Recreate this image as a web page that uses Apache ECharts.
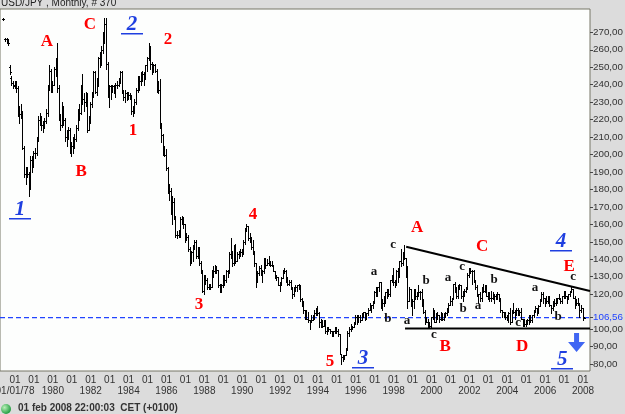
<!DOCTYPE html>
<html><head><meta charset="utf-8">
<script src="https://cdn.jsdelivr.net/npm/echarts@6/dist/echarts.min.js"></script>
<style>html,body{margin:0;padding:0;background:#dcdcdc;overflow:hidden}#c{width:625px;height:414px}</style>
</head><body><div id="c"></div>
<script>
// ---- DATA ----
const startYear = 1977, startMonth = 6; // first bar: June 1977, monthly bars
const opens = [
 277.5,266,266,265,250,244,241,
 240,241,238,223,223,224,204,189,190,189,180,197,
 195,201,201,209,220,220,217,216,219,224,239,248,
 240,240,249,250,238,221,217,227,220,210,211,214,
 203,205,206,209,215,225,224,238,232,230,234,214,
 219,229,235,247,236,240,255,257,260,268,275,252,
 235,239,238,239,238,240,240,243,247,236,233,235,
 232,234,233,225,225,230,237,243,242,246,246,244,
 251,255,259,252,251,251,248,237,237,217,211,202,
 200,192,180,179,168,173,164,154,154,154,163,162,
 160,153,153,146,139,144,147,150,142,147,138,133,
 122,127,128,124,125,124,133,133,135,134,125,122,
 125,130,128,133,133,143,144,138,145,139,143,143,
 144,145,150,158,159,152,153,147,144,138,129,132,
 135,131,133,140,137,138,138,137,137,133,130,130,
 125,125,129,133,133,128,126,127,123,120,123,124,
 125,124,117,115,111,107,106,105,104,105,108,109,
 112,109,104,103,102,104,99,100,100,99,97,99,
 100,99,97,86,84,84,85,88,98,100,102,101,
 103,107,105,107,105,108,110,107,109,111,114,114,
 116,121,120,124,127,116,115,118,121,121,120,128,
 130,127,126,133,133,139,138,144,141,136,116,123,
 113,116,119,119,119,121,121,115,110,106,104,102,
 102,107,110,104,108,108,106,109,106,108,109,111,
 114,116,117,126,124,119,125,125,119,120,122,124,
 131,134,133,133,128,124,119,120,118,122,122,122,
 119,120,118,118,119,119,120,120,117,111,110,110,
 107,106,109,104,111,110,109,111,110,110,106,103,
 103,104,105,107,105,108,111,112,111,113,116,120,
 118,117,116,118,114,112,114,115,118,118,117,116,
 119,121,119,118,120,122,123,118,116,115,115,111,
 112,106.4
];
const highs = [
 278,267,267,266,251,245,242,
 242,242,239,228,229,225,205,193,193,190,199,199,
 202,204,210,222,224,222,219,221,226,240,251,249,
 242,250,255,264,240,223,230,228,221,214,216,215,
 207,210,212,217,226,229,240,246,235,236,235,222,
 230,236,248,248,244,256,259,262,270,278,278,253,
 240,240,240,240,241,242,244,248,248,237,237,236,
 236,235,234,228,232,238,245,245,247,248,247,251,
 256,264,262,253,252,252,249,242,243,218,212,205,
 203,193,183,181,176,175,165,156,157,164,165,164,
 160,155,154,147,145,148,151,151,147,147,139,134,
 131,131,129,126,126,134,136,137,136,134,126,126,
 131,131,134,134,144,152,145,148,149,144,145,146,
 146,151,158,160,159,155,153,151,145,138,133,136,
 137,134,141,141,140,142,139,139,137,133,131,130,
 127,130,134,135,134,130,128,128,124,124,125,125,
 126,125,118,116,111,111,110,105,108,108,111,112,
 113,110,106,105,105,105,101,101,100,99,99,101,
 101,100,97,86,85,85,89,99,101,103,102,104,
 108,108,108,108,109,110,110,109,112,115,114,116,
 122,124,124,127,127,117,119,121,123,123,128,131,
 135,128,134,135,139,146,144,148,141,136,124,123,
 117,123,123,121,125,122,123,117,111,107,106,104,
 107,112,111,109,110,108,110,109,109,110,112,115,
 119,118,126,127,124,125,126,125,122,123,124,132,
 135,135,134,134,128,125,120,121,124,126,125,125,
 121,121,122,121,120,120,121,120,118,111,110,110,
 108,110,112,111,115,111,112,112,111,112,106,106,
 105,106,108,108,108,111,113,112,114,117,121,121,
 118,119,119,119,114,116,117,118,118,120,118,119,
 122,122,119,120,122,124,123,119,117,118,115,114,
 112,106.8
];
const lows = [
 277,265,264,263,246,240,238,
 238,236,222,218,221,203,187,183,187,176,180,190,
 193,198,200,208,217,214,213,215,218,222,237,236,
 236,240,245,236,220,214,216,217,208,205,209,201,
 199,201,204,208,214,220,223,229,225,228,213,214,
 218,227,233,235,234,239,250,251,258,264,249,233,
 227,232,236,235,233,238,239,241,235,231,230,231,
 232,232,223,222,224,229,236,237,240,242,240,243,
 248,254,249,246,247,247,236,235,215,207,200,199,
 191,178,174,166,160,163,153,152,153,153,160,158,
 150,151,145,137,138,139,146,141,141,137,132,121,
 120,126,123,123,123,124,130,132,132,124,121,121,
 124,125,127,130,132,141,136,137,138,139,141,142,
 142,143,149,156,151,150,146,143,136,124,127,131,
 131,127,132,135,137,137,136,136,133,129,128,125,
 122,125,129,132,127,125,125,123,118,119,122,122,
 123,116,113,109,106,106,104,100,104,105,106,108,
 108,101,101,101,102,98,97,99,98,96,96,98,
 98,96,86,80,82,83,85,88,96,99,100,101,
 103,103,104,104,105,107,105,106,108,111,110,112,
 115,119,119,122,112,111,113,115,118,119,119,127,
 125,124,125,127,130,136,137,140,130,112,116,113,
 108,112,117,117,119,117,113,109,103,104,101,101,
 101,106,104,104,106,104,105,105,105,107,108,110,
 114,114,117,121,118,118,123,118,116,119,121,123,
 130,132,126,127,123,119,115,116,116,121,121,119,
 117,116,116,117,115,117,117,116,110,107,107,106,
 105,104,103,104,109,106,108,108,108,106,102,102,
 102,103,103,104,104,107,110,108,109,113,116,115,
 113,115,115,113,109,111,113,114,115,117,115,115,
 118,118,115,117,119,121,118,112,114,114,107,110,
 105,106.3
];
const closes = [
 277.5,266,265,264,247,241,239,
 241,238,223,223,224,204,189,190,189,180,197,195,
 201,201,209,220,220,217,216,219,224,239,248,240,
 240,249,250,238,221,217,227,220,210,211,214,203,
 205,206,209,215,225,224,238,232,230,234,214,219,
 229,235,247,236,240,255,257,260,268,275,252,235,
 239,238,239,238,240,240,243,247,236,233,235,232,
 234,233,225,225,230,237,243,242,246,246,244,251,
 255,259,252,251,251,248,237,237,217,211,202,200,
 192,180,179,168,173,164,154,154,154,163,162,160,
 153,153,146,139,144,147,150,142,147,138,133,122,
 127,128,124,125,124,133,133,135,134,125,122,125,
 130,128,133,133,143,144,138,145,139,143,143,144,
 145,150,158,159,152,153,147,144,138,129,132,135,
 131,133,140,137,138,138,137,137,133,130,130,125,
 125,129,133,133,128,126,127,123,120,123,124,125,
 124,117,115,111,107,106,105,104,105,108,109,112,
 109,104,103,102,104,99,100,100,99,97,99,100,
 99,97,86,84,84,85,88,98,100,102,101,103,
 107,105,107,105,108,110,107,109,111,114,114,116,
 121,120,124,127,116,115,118,121,121,120,128,130,
 127,126,133,133,139,138,144,141,136,116,123,113,
 116,119,119,119,121,121,115,110,106,104,102,102,
 107,110,104,108,108,106,109,106,108,109,111,114,
 116,117,126,124,119,125,125,119,120,122,124,131,
 134,133,133,128,124,119,120,118,122,122,122,119,
 120,118,118,119,119,120,120,117,111,110,110,107,
 106,109,104,111,110,109,111,110,110,106,103,103,
 104,105,107,105,108,111,112,111,113,116,120,118,
 117,116,118,114,112,114,115,118,118,117,116,119,
 121,119,118,120,122,123,118,116,115,115,111,112,
 106.4,106.56
];
const lastPrice = 106.56;
const upperTrend = [[1998.66, 147.2], [2008.37, 121.8]];
const supportLine = [[1998.6, 100.4], [2008.37, 100.4]];
const yearTicks = [1978,1979,1980,1981,1982,1983,1984,1985,1986,1987,1988,1989,1990,1991,1992,1993,1994,1995,1996,1997,1998,1999,2000,2001,2002,2003,2004,2005,2006,2007,2008];
const yearLabelTicks = [1978,1980,1982,1984,1986,1988,1990,1992,1994,1996,1998,2000,2002,2004,2006,2008];
const yearLabels = ['01/01/78','1980','1982','1984','1986','1988','1990','1992','1994','1996','1998','2000','2002','2004','2006','2008'];
const monthLabel = '01';
const priceTicks = [80,90,100,106.56,120,130,140,150,160,170,180,190,200,210,220,230,240,250,260,270];
// wave annotations: [text, year, price]
const redLabels = [['A',1979.69,264.5],['C',1981.96,274.2],['2',1986.08,265.6],['1',1984.23,213.5],['B',1981.49,190.0],['3',1987.72,113.8],['4',1990.57,165.4],['5',1994.64,81.2],['A',1999.24,157.9],['C',2002.67,147.0],['E',2007.27,135.6],['B',2000.72,89.8],['D',2004.78,89.8]];
const blueLabels = [['1',1978.26,168.2],['2',1984.18,274.2],['3',1996.38,82.9],['4',2006.84,149.9],['5',2006.9,82.4]];
const smallLabels = [['a',1996.96,132.8],['b',1997.70,105.8],['a',1998.71,104.7],['c',1997.97,148.2],['b',1999.71,127.6],['a',2000.87,129.3],['c',2001.61,135.6],['b',2001.67,111.5],['c',2000.13,96.6],['a',2002.46,113.3],['b',2003.30,128.2],['c',2004.57,103.5],['a',2005.47,123.6],['b',2006.68,107.0],['c',2007.48,129.9]];
const arrowPoint = [[2007.66, 92.3]];
// ---- END DATA ----

const UI = "'Liberation Sans',Arial,sans-serif";
const SERIF = "'Liberation Serif','Times New Roman',serif";
const X_MIN = 1977.2077, X_MAX = 2008.3697;

const barData = closes.map((c, i) => [startYear + (startMonth - 1 + i) / 12, opens[i], highs[i], lows[i], c]);

function ohlcRender(params, api) {
  const x = api.value(0);
  const h = api.coord([x, api.value(2)]);
  const l = api.coord([x, api.value(3)]);
  const o = api.coord([x, api.value(1)]);
  const c = api.coord([x, api.value(4)]);
  const px = Math.floor(h[0]);
  const top = Math.round(h[1]), bot = Math.round(l[1]);
  return { type: 'group', children: [
    { type: 'rect', shape: { x: px, y: top, width: 1, height: Math.max(1, bot - top + 1) }, style: { fill: '#000' } },
    { type: 'rect', shape: { x: px - 1, y: Math.round(o[1]), width: 1, height: 1 }, style: { fill: '#000' } },
    { type: 'rect', shape: { x: px + 1, y: Math.round(c[1]), width: 1, height: 1 }, style: { fill: '#000' } }
  ]};
}

function textSeries(items, font, color, underline) {
  return {
    type: 'custom', clip: false, z: 10, silent: true,
    data: items.map(d => [d[1], d[2]]),
    renderItem: function (params, api) {
      const p = api.coord([api.value(0), api.value(1)]);
      const t = items[params.dataIndex][0];
      const ch = [{ type: 'text', x: p[0], y: p[1], style: { text: t, fill: color, font: font, align: 'center', verticalAlign: 'middle' } }];
      if (underline) ch.push({ type: 'rect', shape: { x: Math.round(p[0]) - 11, y: Math.round(p[1]) + 8, width: 22, height: 1.5 }, style: { fill: color } });
      return { type: 'group', children: ch };
    }
  };
}

const axisCommon = { type: 'value', min: X_MIN, max: X_MAX, gridIndex: 0, splitLine: { show: false }, axisLine: { show: false }, axisTick: { show: false } };

const chart = echarts.init(document.getElementById('c'), null, { renderer: 'canvas' });
chart.setOption({
  animation: false,
  backgroundColor: '#dcdcdc',
  grid: { left: 0, top: 9, right: 35, bottom: 43, show: true, containLabel: false, outerBoundsMode: 'none', backgroundColor: '#fdfefd', borderColor: '#767666', borderWidth: 1 },
  xAxis: [
    Object.assign({}, axisCommon, {
      axisLabel: { customValues: yearTicks, margin: 4, hideOverlap: false, fontFamily: UI, fontSize: 10, color: '#333', formatter: () => monthLabel }
    }),
    Object.assign({}, axisCommon, {
      position: 'bottom', offset: 0,
      axisLabel: { customValues: yearLabelTicks, margin: 15, hideOverlap: false, fontFamily: UI, fontSize: 10, color: '#333',
        formatter: v => yearLabels[yearLabelTicks.indexOf(Math.round(v))] }
    })
  ],
  yAxis: {
    type: 'value', position: 'right', min: 76, max: 283.35,
    splitLine: { show: false }, axisLine: { show: false },
    axisTick: { show: true, customValues: priceTicks, length: 3, lineStyle: { color: '#444' } },
    axisLabel: {
      customValues: priceTicks, margin: 3, hideOverlap: false, fontFamily: UI, fontSize: 9.8, color: '#333',
      formatter: v => { const s = v.toFixed(2).replace('.', ','); return Math.abs(v - lastPrice) < 0.001 ? '{cur|' + s + '}' : s; },
      rich: { cur: { color: '#2244ff', fontFamily: UI, fontSize: 9.8 } }
    }
  },
  graphic: [
    { type: 'text', left: 1, top: -2, style: { text: 'USD/JPY , Monthly, # 370', font: '10px ' + UI, fill: '#222' } },
    { type: 'circle', shape: { cx: 6, cy: 409, r: 5 }, style: { fill: { type: 'radial', x: 0.35, y: 0.35, r: 0.7, colorStops: [{ offset: 0, color: '#b8f0b8' }, { offset: 1, color: '#1c9a3c' }] } } },
    { type: 'text', left: 18, top: 403, style: { text: '01 feb 2008 22:00:03  CET (+0100)', font: 'bold 10px ' + UI, fill: '#333' } }
  ],
  series: [
    { type: 'custom', name: 'USD/JPY', data: barData, renderItem: ohlcRender, encode: { x: 0, y: [1, 2, 3, 4] }, z: 3 },
    { type: 'line', data: [[X_MIN, lastPrice], [X_MAX, lastPrice]], symbol: 'none', lineStyle: { color: '#2244ff', width: 1.2, type: [5, 3] }, z: 2, silent: true },
    { type: 'line', data: upperTrend, symbol: 'none', lineStyle: { color: '#000', width: 2 }, z: 4, silent: true },
    { type: 'line', data: supportLine, symbol: 'none', lineStyle: { color: '#000', width: 2 }, z: 4, silent: true },
    textSeries(redLabels, 'bold 17px ' + SERIF, '#ff0000', false),
    textSeries(blueLabels, 'italic bold 21px ' + SERIF, '#1f3fe0', true),
    textSeries(smallLabels, 'bold 13px ' + SERIF, '#111', false),
    { type: 'scatter', data: arrowPoint, symbol: 'path://M6,0 L11,0 L11,9 L17,9 L8.5,19 L0,9 L6,9 Z', symbolSize: [17, 19], itemStyle: { color: '#1040f0' }, z: 10, silent: true }
  ]
});
</script></body></html>
